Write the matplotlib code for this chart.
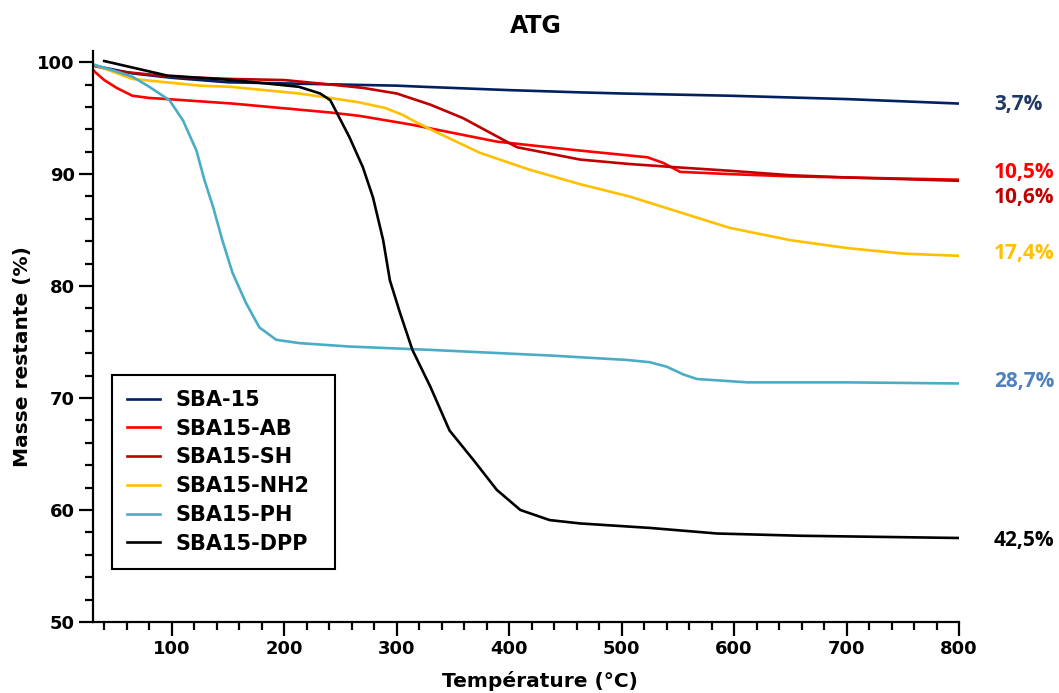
import matplotlib
matplotlib.use("Agg")
import matplotlib.pyplot as plt
from matplotlib.ticker import MultipleLocator

# ATG data (temperature in °C, residual mass in %)
sba15_T = [30, 50, 65, 100, 125, 150, 200, 250, 300, 323, 400, 463, 500, 596, 700, 800]
sba15_M = [99.7, 99.3, 99.0, 98.6, 98.4, 98.2, 98.1, 98.0, 97.9, 97.8, 97.5, 97.3, 97.2, 97.0, 96.7, 96.3]

ab_T = [30, 32, 40, 51, 65, 80, 96, 154, 241, 267, 314, 389, 463, 523, 537, 552, 596, 650, 700, 800]
ab_M = [99.3, 99.1, 98.4, 97.7, 97.0, 96.8, 96.7, 96.3, 95.5, 95.2, 94.4, 92.9, 92.1, 91.5, 91.0, 90.2, 90.0, 89.8, 89.7, 89.5]

sh_T = [30, 50, 100, 152, 200, 241, 270, 300, 330, 359, 383, 407, 463, 507, 550, 596, 650, 700, 800]
sh_M = [99.7, 99.2, 98.7, 98.5, 98.4, 98.0, 97.7, 97.2, 96.2, 95.0, 93.7, 92.4, 91.3, 90.9, 90.6, 90.3, 89.9, 89.7, 89.4]

nh2_T = [30, 65, 125, 152, 213, 241, 267, 290, 305, 318, 330, 374, 418, 463, 507, 596, 650, 700, 750, 800]
nh2_M = [99.8, 98.5, 97.9, 97.8, 97.2, 96.8, 96.4, 95.9, 95.3, 94.6, 94.0, 91.9, 90.4, 89.1, 88.0, 85.2, 84.1, 83.4, 82.9, 82.7]

ph_T = [30, 50, 65, 80, 98, 110, 122, 129, 137, 145, 154, 166, 178, 193, 214, 258, 330, 436, 505, 525, 540, 555, 567, 612, 700, 800]
ph_M = [99.8, 99.2, 98.7, 97.8, 96.6, 94.8, 92.1, 89.5, 87.0, 84.1, 81.2, 78.5, 76.3, 75.2, 74.9, 74.6, 74.3, 73.8, 73.4, 73.2, 72.8, 72.1, 71.7, 71.4, 71.4, 71.3]

dpp_T = [40, 96, 154, 213, 232, 241, 258, 270, 279, 288, 294, 303, 314, 330, 347, 368, 389, 410, 436, 463, 525, 585, 659, 800]
dpp_M = [100.1, 98.8, 98.4, 97.8, 97.2, 96.6, 93.3, 90.6, 87.9, 84.1, 80.5, 77.6, 74.3, 71.0, 67.1, 64.5, 61.8, 60.0, 59.1, 58.8, 58.4, 57.9, 57.7, 57.5]

labels = ['SBA-15', 'SBA15-AB', 'SBA15-SH', 'SBA15-NH2', 'SBA15-PH', 'SBA15-DPP']
colors = ['#002060', '#FF0000', '#C00000', '#FFC000', '#4BACC6', '#000000']
losses = ['3,7%', '10,5%', '10,6%', '17,4%', '28,7%', '42,5%']
loss_colors = ['#1F3864', '#FF0000', '#C00000', '#FFC000', '#4F81BD', '#000000']
loss_y = [96.2, 90.1, 87.95, 82.9, 71.5, 57.3]

series = [(sba15_T, sba15_M), (ab_T, ab_M), (sh_T, sh_M),
          (nh2_T, nh2_M), (ph_T, ph_M), (dpp_T, dpp_M)]

fig = plt.figure(figsize=(10.59, 6.93), dpi=100)
ax = fig.add_axes([0.0878, 0.1025, 0.8178, 0.824])

for (t, m), lab, col in zip(series, labels, colors):
    ax.plot(t, m, color=col, lw=1.9, label=lab)

ax.set_xlim(30, 800)
ax.set_ylim(50, 101)
ax.xaxis.set_major_locator(MultipleLocator(100))
ax.xaxis.set_minor_locator(MultipleLocator(20))
ax.yaxis.set_major_locator(MultipleLocator(10))
ax.yaxis.set_minor_locator(MultipleLocator(2))
ax.set_xticks(range(100, 801, 100))

for s in ['top', 'right']:
    ax.spines[s].set_visible(False)
for s in ['left', 'bottom']:
    ax.spines[s].set_linewidth(1.6)

ax.tick_params(which='major', length=10, width=1.6, labelsize=13, pad=3)
ax.tick_params(which='minor', length=6, width=1.6)
for lab in ax.get_xticklabels() + ax.get_yticklabels():
    lab.set_fontweight('bold')

ax.set_xlabel('Température (°C)', fontsize=14.5, fontweight='bold')
ax.set_ylabel('Masse restante (%)', fontsize=14.5, fontweight='bold')
ax.xaxis.set_label_coords(0.516, -0.085)
ax.yaxis.set_label_coords(-0.070, 0.464)
fig.text(0.506, 0.962, 'ATG', ha='center', va='center', fontsize=17, fontweight='bold')

for txt, col, y in zip(losses, loss_colors, loss_y):
    ax.text(831, y, txt, color=col, fontsize=15, fontweight='bold',
            family=['Open Sans', 'DejaVu Sans'], ha='left', va='center', clip_on=False)

leg = ax.legend(loc='upper left', bbox_to_anchor=(0.022, 0.0981, 0.2575, 0.3345),
                mode='expand', borderaxespad=0,
                prop={'weight': 'bold', 'size': 15}, handlelength=1.6,
                labelspacing=0.42, fancybox=False, framealpha=1,
                edgecolor='black', borderpad=0.72, handletextpad=0.75)
leg.get_frame().set_linewidth(1.5)

fig.savefig('out.png', dpi=100)
